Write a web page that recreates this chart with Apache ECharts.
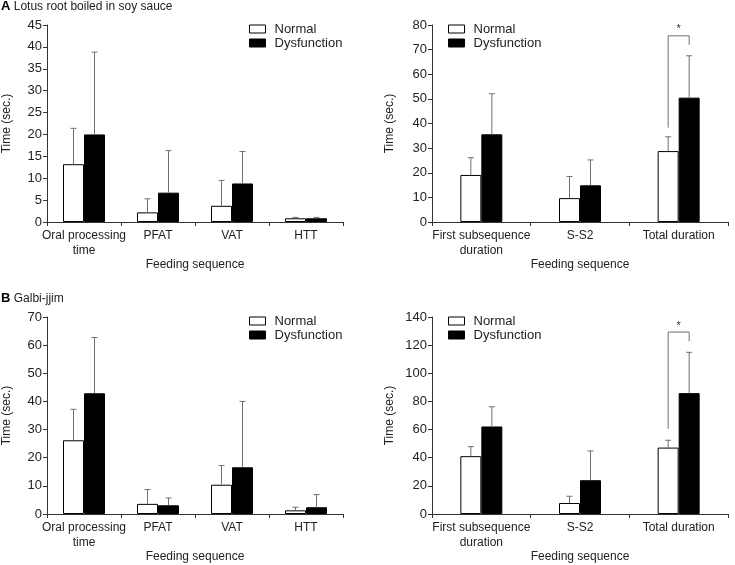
<!DOCTYPE html>
<html>
<head>
<meta charset="utf-8">
<script src="https://cdn.jsdelivr.net/npm/echarts@6/dist/echarts.min.js"></script>
<style>
  html, body { margin: 0; padding: 0; background: #fff; }
  #chart { width: 735px; height: 565px; }
</style>
</head>
<body>
<div id="chart"></div>
<script>
// 数据
var seqCats = ["Oral processing\ntime", "PFAT", "VAT", "HTT"];
var durCats = ["First subsequence\nduration", "S-S2", "Total duration"];

// A: Lotus root boiled in soy sauce
var aSeqNormal = [13.2, 2.2, 3.7, 0.85];
var aSeqNormalSd = [8.2, 3.1, 5.8, 0.2];
var aSeqDys = [20.0, 6.7, 8.8, 0.85];
var aSeqDysSd = [18.8, 9.6, 7.3, 0.2];

var aDurNormal = [19.1, 9.7, 28.8];
var aDurNormalSd = [7.0, 8.8, 5.8];
var aDurDys = [35.6, 14.9, 50.5];
var aDurDysSd = [16.5, 10.3, 17.0];
var aBracket = [38.3, 75.6, 71.9]; // 起点, 顶部, 终点

// B: Galbi-jjim
var bSeqNormal = [26.2, 3.6, 10.4, 1.3];
var bSeqNormalSd = [11.0, 5.1, 6.8, 1.1];
var bSeqDys = [42.9, 3.1, 16.6, 2.4];
var bSeqDysSd = [19.8, 2.6, 23.4, 4.5];

var bDurNormal = [41.1, 7.8, 47.2];
var bDurNormalSd = [6.8, 4.8, 5.2];
var bDurDys = [62.2, 24.0, 85.9];
var bDurDysSd = [14.0, 20.8, 29.0];
var bBracket = [60.5, 129.3, 122.7];

var yMax = [45, 80, 70, 140];
var yStep = [5, 10, 10, 20];

var FONT = "Liberation Sans, Arial, sans-serif";
var FS = 12;
var BAR_W = 21;

let chart = echarts.init(document.getElementById("chart"));

function errItem(mean, sd) {
  return mean.map(function (v, i) { return [i, v, sd[i]]; });
}

function errRender(offset) {
  return function (params, api) {
    var cx = api.coord([api.value(0), 0])[0] + offset;
    var y0 = api.coord([api.value(0), api.value(1)])[1];
    var y1 = api.coord([api.value(0), api.value(1) + api.value(2)])[1];
    var st = { stroke: "#707070", lineWidth: 1 };
    return {
      type: "group",
      children: [
        { type: "line", shape: { x1: cx, y1: y0, x2: cx, y2: y1 }, style: st },
        { type: "line", shape: { x1: cx - 3, y1: y1, x2: cx + 3, y2: y1 }, style: st }
      ]
    };
  };
}

function bracketRender(params, api) {
  var idx = api.value(0);
  var c = api.coord([idx, 0])[0];
  var xl = c - BAR_W / 2, xr = c + BAR_W / 2;
  var ys = api.coord([idx, api.value(1)])[1];
  var yt = api.coord([idx, api.value(2)])[1];
  var ye = api.coord([idx, api.value(3)])[1];
  var st = { stroke: "#707070", lineWidth: 1, fill: null };
  return {
    type: "group",
    children: [
      { type: "polyline", shape: { points: [[xl, ys], [xl, yt], [xr, yt], [xr, ye]] }, style: st },
      { type: "text", x: c, y: yt - 1, style: { text: "*", fill: "#333", font: "11px " + FONT, align: "center", verticalAlign: "bottom" } }
    ]
  };
}

var grids = [
  { left: 46, top: 25, width: 297, height: 197 },
  { left: 432, top: 25, width: 296, height: 197 },
  { left: 46, top: 317, width: 297, height: 197 },
  { left: 432, top: 317, width: 296, height: 197 }
];
var catsFor = [seqCats, durCats, seqCats, durCats];

var xAxes = grids.map(function (g, i) {
  return {
    type: "category",
    gridIndex: i,
    data: catsFor[i],
    name: "Feeding sequence",
    nameLocation: "middle",
    nameGap: 37,
    nameTextStyle: { fontSize: FS, color: "#222", fontFamily: FONT },
    axisLine: { lineStyle: { color: "#333", width: 1 } },
    axisTick: { show: true, length: 4, lineStyle: { color: "#333" } },
    axisLabel: { interval: 0, fontSize: FS, color: "#222", fontFamily: FONT, margin: 6, lineHeight: 15 }
  };
});

var yAxes = grids.map(function (g, i) {
  return {
    type: "value",
    gridIndex: i,
    min: 0,
    max: yMax[i],
    interval: yStep[i],
    name: "Time (sec.)",
    nameLocation: "middle",
    nameGap: i % 2 === 0 ? 34 : 36,
    nameTextStyle: { fontSize: FS, color: "#222", fontFamily: FONT },
    axisLine: { show: true, lineStyle: { color: "#333", width: 1 } },
    axisTick: { show: true, length: 4, lineStyle: { color: "#333" } },
    axisLabel: { fontSize: 13, color: "#222", fontFamily: FONT, margin: 5 },
    splitLine: { show: false }
  };
});

var normalStyle = { color: "#fff", borderColor: "#000", borderWidth: 1 };
var dysStyle = { color: "#000", borderColor: "#000", borderWidth: 1 };

var panels = [
  [aSeqNormal, aSeqNormalSd, aSeqDys, aSeqDysSd],
  [aDurNormal, aDurNormalSd, aDurDys, aDurDysSd],
  [bSeqNormal, bSeqNormalSd, bSeqDys, bSeqDysSd],
  [bDurNormal, bDurNormalSd, bDurDys, bDurDysSd]
];

var series = [];
panels.forEach(function (p, i) {
  series.push({
    name: "Normal", type: "bar", xAxisIndex: i, yAxisIndex: i,
    data: p[0], barWidth: BAR_W, barGap: "0%", itemStyle: normalStyle, silent: true
  });
  series.push({
    name: "Dysfunction", type: "bar", xAxisIndex: i, yAxisIndex: i,
    data: p[2], barWidth: BAR_W, barGap: "0%", itemStyle: dysStyle, silent: true
  });
  series.push({
    type: "custom", xAxisIndex: i, yAxisIndex: i, z: 5,
    renderItem: errRender(-BAR_W / 2), data: errItem(p[0], p[1]), encode: { x: 0, y: 1 }
  });
  series.push({
    type: "custom", xAxisIndex: i, yAxisIndex: i, z: 5,
    renderItem: errRender(BAR_W / 2), data: errItem(p[2], p[3]), encode: { x: 0, y: 1 }
  });
});
// 显著性标记
series.push({ type: "custom", xAxisIndex: 1, yAxisIndex: 1, z: 5, renderItem: bracketRender,
  data: [[2].concat(aBracket)], encode: { x: 0, y: 2 } });
series.push({ type: "custom", xAxisIndex: 3, yAxisIndex: 3, z: 5, renderItem: bracketRender,
  data: [[2].concat(bBracket)], encode: { x: 0, y: 2 } });

var legendPos = [[249, 22], [448, 22], [249, 314], [448, 314]];
var legends = legendPos.map(function (p) {
  return {
    left: p[0], top: p[1], orient: "vertical", padding: 0, itemGap: 0,
    itemWidth: 16, itemHeight: 8, icon: "rect", selectedMode: false,
    textStyle: { fontSize: FS + 1, color: "#222", fontFamily: FONT, lineHeight: 14, padding: [0, 0, 0, 4] },
    data: [
      { name: "Normal", itemStyle: normalStyle },
      { name: "Dysfunction", itemStyle: dysStyle }
    ]
  };
});

chart.setOption({
  animation: false,
  textStyle: { fontFamily: FONT },
  title: [
    { text: "{b|A} Lotus root boiled in soy sauce", left: 1, top: 0, padding: 0,
      textStyle: { fontSize: 12, fontWeight: "normal", color: "#222", fontFamily: FONT,
        rich: { b: { fontSize: 13, fontWeight: "bold", color: "#000", fontFamily: FONT } } } },
    { text: "{b|B} Galbi-jjim", left: 1, top: 292, padding: 0,
      textStyle: { fontSize: 12, fontWeight: "normal", color: "#222", fontFamily: FONT,
        rich: { b: { fontSize: 13, fontWeight: "bold", color: "#000", fontFamily: FONT } } } }
  ],
  legend: legends,
  grid: grids,
  xAxis: xAxes,
  yAxis: yAxes,
  series: series
});
</script>
</body>
</html>
